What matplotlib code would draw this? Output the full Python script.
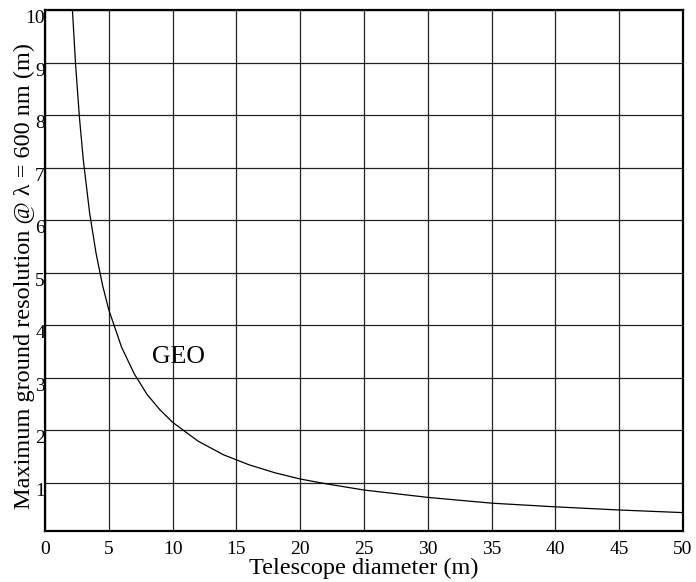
import matplotlib.pyplot as plt

plt.rcParams['font.family'] = ['Liberation Serif', 'DejaVu Serif']

# valori
diametro = [2.0, 2.15, 2.4, 2.7, 3.0, 3.5, 4.0, 4.5, 5.0, 6.0, 7.0, 8.0, 9.0, 10.0,
            12.0, 14.0, 16.0, 18.0, 20.0, 22.0, 25.0, 30.0, 35.0, 40.0, 45.0, 50.0]
risoluzione = [10.7, 10.0, 8.95, 7.95, 7.15, 6.13, 5.37, 4.77, 4.29, 3.58, 3.07, 2.68, 2.39, 2.15,
               1.79, 1.53, 1.34, 1.19, 1.07, 0.98, 0.86, 0.72, 0.61, 0.54, 0.48, 0.43]
xticks = [0, 5, 10, 15, 20, 25, 30, 35, 40, 45, 50]
yticks = [1, 2, 3, 4, 5, 6, 7, 8, 9, 10]

fig = plt.figure(figsize=(6.96, 5.82), dpi=100)
ax = fig.add_axes([45 / 696, 1 - 531 / 582, 638 / 696, 521 / 582])

ax.plot(diametro, risoluzione, color='black', lw=0.9)
ax.set_xlim(0, 50)
ax.set_ylim(0.08, 10)
ax.set_xticks(xticks)
ax.set_yticks(yticks)
ax.grid(True, color='#222222', lw=0.9)
ax.tick_params(length=0, labelsize=14)
ax.tick_params(axis='y', pad=0)
ax.tick_params(axis='x', pad=7)
for lbl in ax.get_yticklabels():
    lbl.set_va('top')
for s in ax.spines.values():
    s.set_linewidth(1.6)

ax.text(8.4, 3.4, 'GEO', fontsize=18.5, va='center', ha='left')
ax.set_xlabel('Telescope diameter (m)', fontsize=17.5)
ax.set_ylabel('Maximum ground resolution @ \u03bb = 600 nm (m)', fontsize=17.5, va='center')
ax.xaxis.set_label_coords(0.5, -0.052)
ax.yaxis.set_label_coords(-0.033, 0.489)

fig.savefig('out.png', dpi=100)
